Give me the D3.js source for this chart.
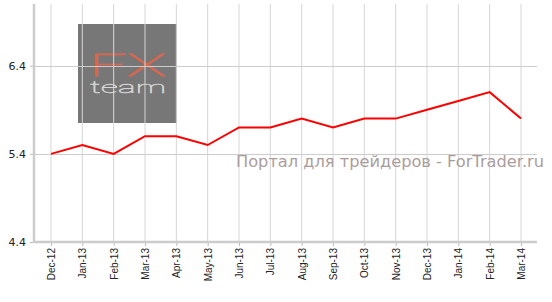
<!DOCTYPE html>
<html>
<head>
<meta charset="utf-8">
<script src="https://cdn.jsdelivr.net/npm/d3@7"></script>
<style>
    body { margin: 0; background: #fff; }
    svg { display: block; }
</style>
</head>
<body>
<svg id="chart" width="552" height="302"></svg>
<script>
const months = ["Dec-12", "Jan-13", "Feb-13", "Mar-13", "Apr-13", "May-13", "Jun-13", "Jul-13",
    "Aug-13", "Sep-13", "Oct-13", "Nov-13", "Dec-13", "Jan-14", "Feb-14", "Mar-14"];
const rates = [5.4, 5.5, 5.4, 5.6, 5.6, 5.5, 5.7, 5.7, 5.8, 5.7, 5.8, 5.8, 5.9, 6.0, 6.1, 5.8];
const yTicks = [4.4, 5.4, 6.4];
const watermark = "Портал для трейдеров - ForTrader.ru";

const svg = d3.select("#chart");
const plotLeft = 34, plotRight = 537, plotTop = 4, plotBottom = 242;

const x = d3.scalePoint().domain(months).range([51, 521]);
const y = d3.scaleLinear().domain([4.4, 7.1]).range([plotBottom, plotTop]);

// logo sits behind the grid
const logo = svg.append("g").attr("class", "logo");
logo.append("rect")
    .attr("x", 78).attr("y", 24)
    .attr("width", 99).attr("height", 99)
    .attr("fill", "#777777");
logo.append("text")
    .attr("x", 89).attr("y", 76)
    .attr("textLength", 77).attr("lengthAdjust", "spacingAndGlyphs")
    .style("font-family", "Roboto")
    .style("font-weight", 100)
    .style("font-size", "32px")
    .attr("fill", "#d9664f")
    .attr("stroke", "#d9664f")
    .attr("stroke-width", 0.8)
    .text("FX");
logo.append("text")
    .attr("x", 90).attr("y", 93)
    .attr("textLength", 76).attr("lengthAdjust", "spacingAndGlyphs")
    .style("font-family", "Roboto")
    .style("font-weight", 100)
    .style("font-size", "17px")
    .attr("fill", "#d6d6d6")
    .attr("stroke", "#d6d6d6")
    .attr("stroke-width", 0.4)
    .text("team");

// grid
svg.append("g")
    .selectAll("line")
    .data(months)
    .join("line")
    .attr("x1", d => x(d)).attr("x2", d => x(d))
    .attr("y1", plotTop).attr("y2", plotBottom)
    .attr("stroke", "#d6d6d6");

svg.append("g")
    .selectAll("line")
    .data(yTicks)
    .join("line")
    .attr("x1", plotLeft).attr("x2", plotRight)
    .attr("y1", d => Math.round(y(d)) + 0.5).attr("y2", d => Math.round(y(d)) + 0.5)
    .attr("stroke", "#cccccc");

// watermark
svg.append("text")
    .attr("x", 236).attr("y", 167)
    .attr("textLength", 308).attr("lengthAdjust", "spacingAndGlyphs")
    .style("font-family", "DejaVu Sans")
    .style("font-size", "16px")
    .attr("fill", "#ab9d9d")
    .text(watermark);

// axes
const yAxis = svg.append("g")
    .attr("transform", `translate(${plotLeft},0)`)
    .call(d3.axisLeft(y).tickValues(yTicks).tickSize(4).tickPadding(4).tickFormat(d3.format(".1f")));
yAxis.select(".domain").remove();
yAxis.selectAll(".tick line").attr("stroke", "#bbbbbb");
yAxis.selectAll(".tick text")
    .style("font-family", "DejaVu Sans")
    .style("font-size", "11px")
    .attr("fill", "#222");

const xAxis = svg.append("g")
    .attr("transform", `translate(0,${plotBottom})`)
    .call(d3.axisBottom(x).tickSize(4).tickPadding(0));
xAxis.select(".domain").remove();
xAxis.selectAll(".tick line").attr("stroke", "#bbbbbb");
xAxis.selectAll(".tick text")
    .attr("transform", "rotate(-90)")
    .attr("x", -6).attr("y", 0).attr("dy", "0.35em")
    .style("text-anchor", "end")
    .style("font-family", "Liberation Sans")
    .style("font-size", "10px")
    .attr("fill", "#222");

svg.append("line")
    .attr("x1", plotLeft).attr("x2", plotLeft)
    .attr("y1", plotTop).attr("y2", plotBottom + 1)
    .attr("stroke", "#cccccc").attr("stroke-width", 2.5);
svg.append("line")
    .attr("x1", plotLeft).attr("x2", plotRight)
    .attr("y1", plotBottom).attr("y2", plotBottom)
    .attr("stroke", "#cccccc").attr("stroke-width", 2.5);

// series
const line = d3.line()
    .x((d, i) => x(months[i]))
    .y(d => y(d));

svg.append("path")
    .datum(rates)
    .attr("d", line)
    .attr("fill", "none")
    .attr("stroke", "#ff0000")
    .attr("stroke-width", 2);
</script>
</body>
</html>
